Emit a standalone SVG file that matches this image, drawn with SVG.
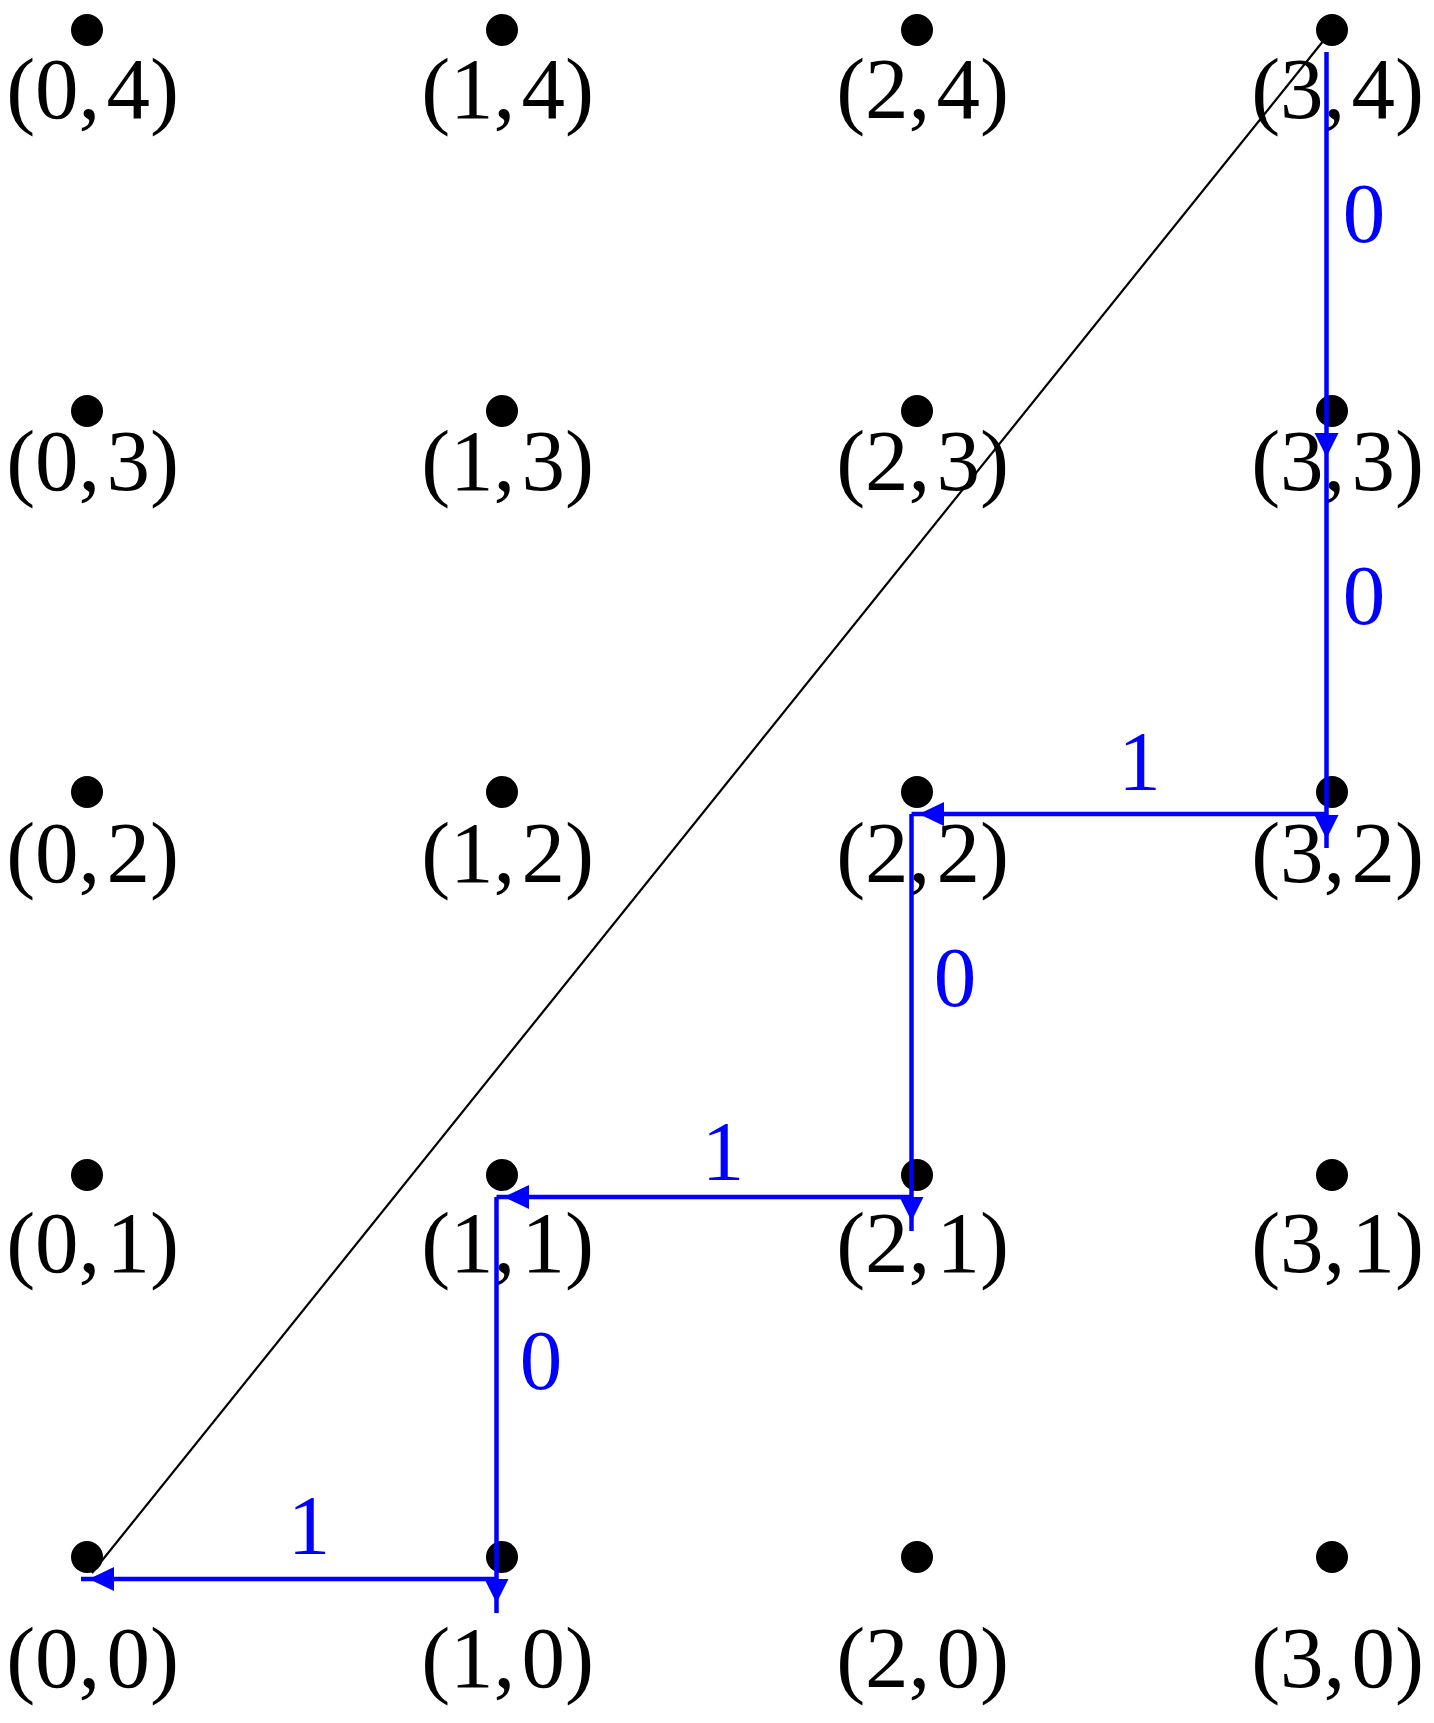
<svg xmlns="http://www.w3.org/2000/svg" xmlns:xlink="http://www.w3.org/1999/xlink" width="1434" height="1723" viewBox="0 0 1434 1723">
<style>
.dot{fill:#000}
.lbl{font-family:"Liberation Serif","Times New Roman",serif;font-size:87px;fill:#000;text-anchor:middle}
.elbl{font-family:"Liberation Serif","Times New Roman",serif;font-size:85px;fill:#0000ff;text-anchor:middle}
.edge{stroke:#0000ff;stroke-width:4.5;fill:none}
.diag{stroke:#000;stroke-width:2.2;fill:none}
.ah{fill:#0000ff}
</style>
<defs>
<path id="down" d="M0,0 L-12,-24 L12,-24 Z"/>
<path id="left" d="M0,0 L25,-12 L25,12 Z"/>
</defs>
<rect width="1434" height="1723" fill="#fff"/>
<g id="nodes">
<g id="n04"><circle class="dot" cx="87" cy="30" r="16"/><text class="lbl" x="92.5" y="117.5">(0,<tspan dx="6">4)</tspan></text></g>
<g id="n14"><circle class="dot" cx="502" cy="30" r="16"/><text class="lbl" x="507.5" y="117.5">(1,<tspan dx="6">4)</tspan></text></g>
<g id="n24"><circle class="dot" cx="917" cy="30" r="16"/><text class="lbl" x="922.5" y="117.5">(2,<tspan dx="6">4)</tspan></text></g>
<g id="n34"><circle class="dot" cx="1332" cy="30" r="16"/><text class="lbl" x="1337.5" y="117.5">(3,<tspan dx="6">4)</tspan></text></g>
<g id="n03"><circle class="dot" cx="87" cy="411" r="16"/><text class="lbl" x="92.5" y="490">(0,<tspan dx="6">3)</tspan></text></g>
<g id="n13"><circle class="dot" cx="502" cy="411" r="16"/><text class="lbl" x="507.5" y="490">(1,<tspan dx="6">3)</tspan></text></g>
<g id="n23"><circle class="dot" cx="917" cy="411" r="16"/><text class="lbl" x="922.5" y="490">(2,<tspan dx="6">3)</tspan></text></g>
<g id="n33"><circle class="dot" cx="1332" cy="411" r="16"/><text class="lbl" x="1337.5" y="490">(3,<tspan dx="6">3)</tspan></text></g>
<g id="n02"><circle class="dot" cx="87" cy="792" r="16"/><text class="lbl" x="92.5" y="882">(0,<tspan dx="6">2)</tspan></text></g>
<g id="n12"><circle class="dot" cx="502" cy="792" r="16"/><text class="lbl" x="507.5" y="882">(1,<tspan dx="6">2)</tspan></text></g>
<g id="n22"><circle class="dot" cx="917" cy="792" r="16"/><text class="lbl" x="922.5" y="882">(2,<tspan dx="6">2)</tspan></text></g>
<g id="n32"><circle class="dot" cx="1332" cy="792" r="16"/><text class="lbl" x="1337.5" y="882">(3,<tspan dx="6">2)</tspan></text></g>
<g id="n01"><circle class="dot" cx="87" cy="1175" r="16"/><text class="lbl" x="92.5" y="1272">(0,<tspan dx="6">1)</tspan></text></g>
<g id="n11"><circle class="dot" cx="502" cy="1175" r="16"/><text class="lbl" x="507.5" y="1272">(1,<tspan dx="6">1)</tspan></text></g>
<g id="n21"><circle class="dot" cx="917" cy="1175" r="16"/><text class="lbl" x="922.5" y="1272">(2,<tspan dx="6">1)</tspan></text></g>
<g id="n31"><circle class="dot" cx="1332" cy="1175" r="16"/><text class="lbl" x="1337.5" y="1272">(3,<tspan dx="6">1)</tspan></text></g>
<g id="n00"><circle class="dot" cx="87" cy="1557" r="16"/><text class="lbl" x="92.5" y="1687">(0,<tspan dx="6">0)</tspan></text></g>
<g id="n10"><circle class="dot" cx="502" cy="1557" r="16"/><text class="lbl" x="507.5" y="1687">(1,<tspan dx="6">0)</tspan></text></g>
<g id="n20"><circle class="dot" cx="917" cy="1557" r="16"/><text class="lbl" x="922.5" y="1687">(2,<tspan dx="6">0)</tspan></text></g>
<g id="n30"><circle class="dot" cx="1332" cy="1557" r="16"/><text class="lbl" x="1337.5" y="1687">(3,<tspan dx="6">0)</tspan></text></g>
</g>
<g id="connectors">
<line class="diag" x1="1332" y1="30" x2="92" y2="1573"/>
<line class="edge" x1="1326.5" y1="52" x2="1326.5" y2="848"/>
<line class="edge" x1="1326.5" y1="814" x2="911.5" y2="814"/>
<line class="edge" x1="911.5" y1="814" x2="911.5" y2="1231"/>
<line class="edge" x1="911.5" y1="1197" x2="496.5" y2="1197"/>
<line class="edge" x1="496.5" y1="1197" x2="496.5" y2="1613"/>
<line class="edge" x1="496.5" y1="1579" x2="81" y2="1579"/>
<use class="ah" xlink:href="#down" x="1326.5" y="457"/>
<use class="ah" xlink:href="#down" x="1326.5" y="839"/>
<use class="ah" xlink:href="#down" x="911.5" y="1221"/>
<use class="ah" xlink:href="#down" x="496.5" y="1603"/>
<use class="ah" xlink:href="#left" x="919" y="814"/>
<use class="ah" xlink:href="#left" x="504" y="1197"/>
<use class="ah" xlink:href="#left" x="89" y="1579"/>
<text class="elbl" x="1364" y="241.5">0</text>
<text class="elbl" x="1364" y="624">0</text>
<text class="elbl" x="1139.5" y="790">1</text>
<text class="elbl" x="955" y="1006">0</text>
<text class="elbl" x="723" y="1180">1</text>
<text class="elbl" x="541" y="1389">0</text>
<text class="elbl" x="309" y="1554">1</text>
</g>
</svg>
